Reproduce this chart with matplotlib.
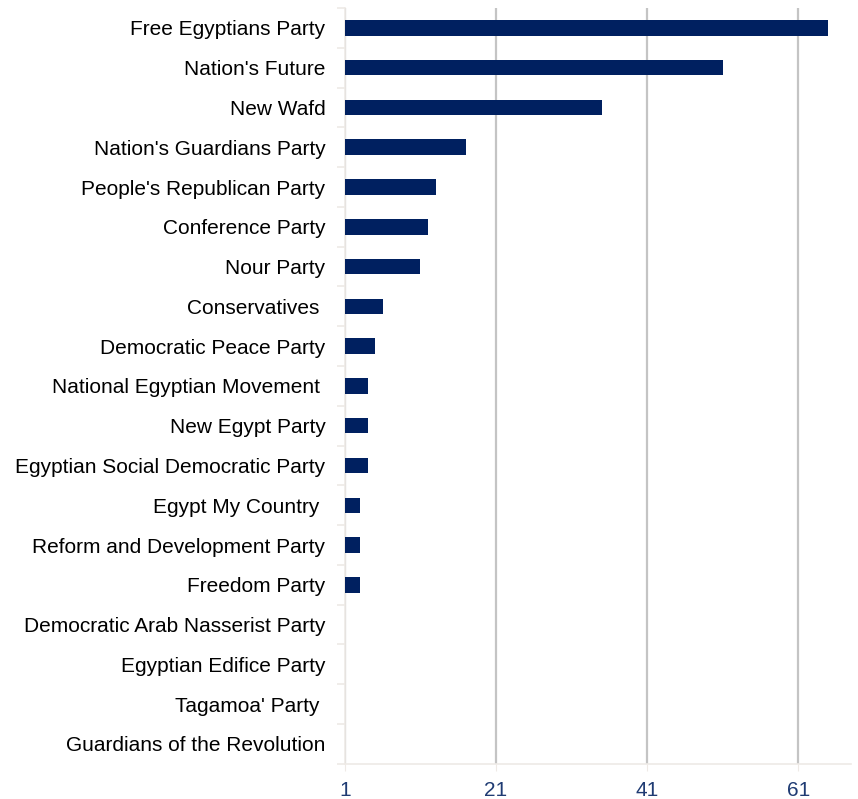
import numpy as np
import matplotlib.pyplot as plt

# party names, top to bottom as in the chart
parties = [
    "Free Egyptians Party",
    "Nation's Future",
    "New Wafd",
    "Nation's Guardians Party",
    "People's Republican Party",
    "Conference Party",
    "Nour Party",
    "Conservatives ",
    "Democratic Peace Party",
    "National Egyptian Movement ",
    "New Egypt Party",
    "Egyptian Social Democratic Party",
    "Egypt My Country ",
    "Reform and Development Party",
    "Freedom Party",
    "Democratic Arab Nasserist Party",
    "Egyptian Edifice Party",
    "Tagamoa' Party ",
    "Guardians of the Revolution",
]
seats = [65, 51, 35, 17, 13, 12, 11, 6, 5, 4, 4, 4, 3, 3, 3, 1, 1, 1, 1]
x_ticks = [1, 21, 41, 61]

plt.rcParams['font.family'] = ['Liberation Sans', 'DejaVu Sans']

fig = plt.figure(figsize=(8.58, 7.99), dpi=100)
ax = fig.add_axes([0.402, 0.044, 0.590, 0.946])

pos = np.arange(len(parties))
ax.barh(pos, seats, height=0.39, color='#002060', linewidth=0, zorder=3)

ax.set_xlim(1, 68)
ax.set_ylim(len(parties) - 0.5, -0.5)

ax.set_xticks(x_ticks)
ax.set_xticklabels([str(t) for t in x_ticks], color='#1f3b73', fontsize=15)
ax.tick_params(axis='x', length=5, color='#eeeae6', pad=7)

ax.set_yticks(pos)
ax.set_yticklabels(parties, fontsize=15)
ax.tick_params(axis='y', which='major', length=0, pad=14)
ax.set_yticks(np.arange(len(parties) + 1) - 0.5, minor=True)
ax.tick_params(axis='y', which='minor', length=6, color='#eeeae6', width=1.2)

ax.grid(axis='x', color='#c4c4c4', linewidth=1.6, zorder=0)
for side in ['top', 'right']:
    ax.spines[side].set_visible(False)
for side in ['left', 'bottom']:
    ax.spines[side].set_color('#eeeae6')
    ax.spines[side].set_linewidth(1.2)

fig.savefig('out.png', dpi=100)
